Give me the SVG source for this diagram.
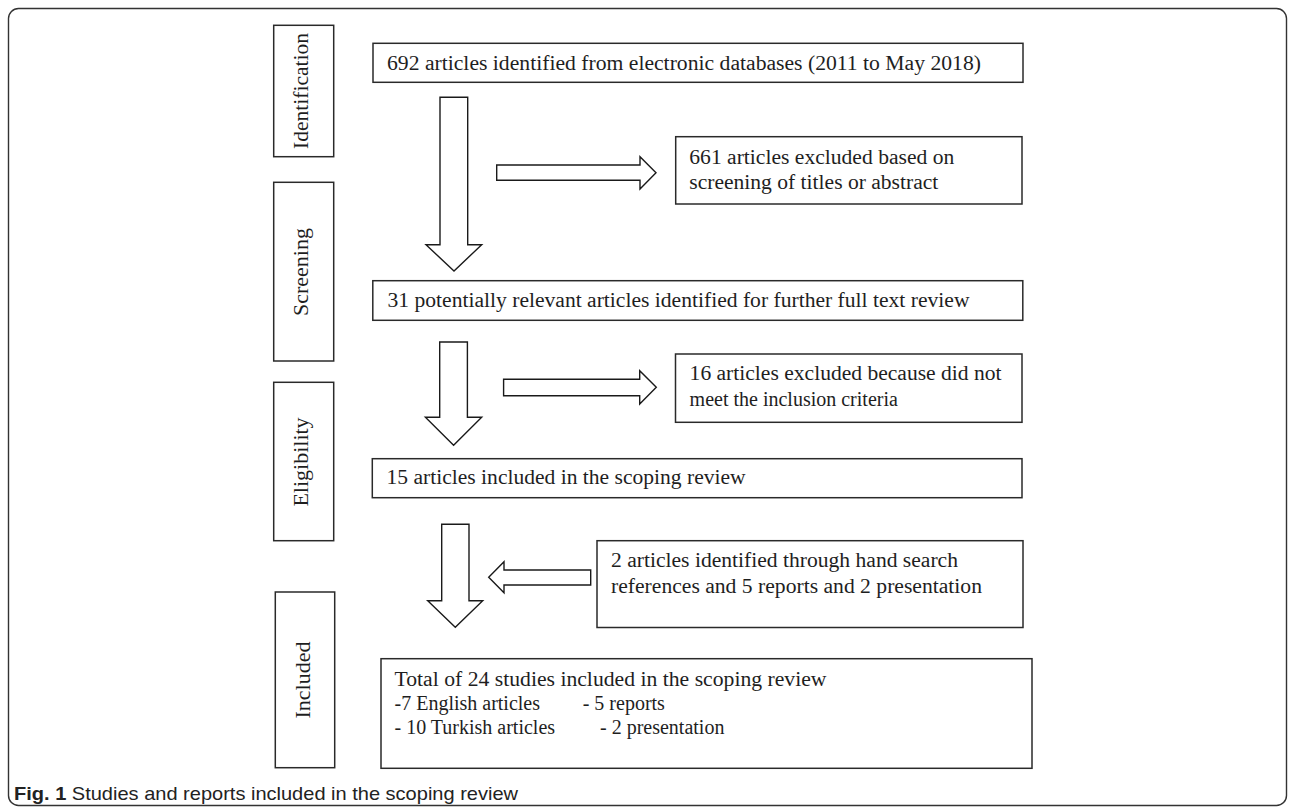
<svg xmlns="http://www.w3.org/2000/svg" width="1292" height="812" viewBox="0 0 1292 812">
<style>
.frame{fill:#fff;stroke:#333;stroke-width:1.4}
.box{fill:#fff;stroke:#2a2a2a;stroke-width:1.5}
.arrow{fill:#fff;stroke:#1a1a1a;stroke-width:1.4;stroke-linejoin:miter}
.t{font-family:"Liberation Serif","Times New Roman",serif;font-size:20px;fill:#1e1e1e}
.lab{font-family:"Liberation Serif","Times New Roman",serif;font-size:22px;fill:#1e1e1e;text-anchor:middle}
.cap{font-family:"Liberation Sans",Arial,sans-serif;font-size:19px;fill:#222}
</style>
<rect class="frame" x="8.5" y="8.5" width="1278" height="797" rx="10"/>
<g id="stage-identification">
<rect class="box" x="273.7" y="25.3" width="60" height="131.4"/>
<text class="lab" transform="translate(308,91) rotate(-90)" textLength="116" lengthAdjust="spacingAndGlyphs">Identification</text>
</g>
<g id="stage-screening">
<rect class="box" x="273.7" y="182.3" width="60" height="178.7"/>
<text class="lab" transform="translate(308,272) rotate(-90)">Screening</text>
</g>
<g id="stage-eligibility">
<rect class="box" x="273.7" y="382.3" width="60" height="158.4"/>
<text class="lab" transform="translate(308,462) rotate(-90)">Eligibility</text>
</g>
<g id="stage-included">
<rect class="box" x="275.3" y="592" width="59.4" height="175.7"/>
<text class="lab" transform="translate(310,680) rotate(-90)">Included</text>
</g>
<g id="node-692">
<rect class="box" x="373" y="43.3" width="650" height="39"/>
<text class="t" x="387" y="70" textLength="594" lengthAdjust="spacingAndGlyphs">692 articles identified from electronic databases (2011 to May 2018)</text>
</g>
<g id="node-661">
<rect class="box" x="675.7" y="136.7" width="346.3" height="67.3"/>
<text class="t" x="689.3" y="164.3" textLength="265" lengthAdjust="spacingAndGlyphs">661 articles excluded based on</text>
<text class="t" x="689.3" y="188.7" textLength="249" lengthAdjust="spacingAndGlyphs">screening of titles or abstract</text>
</g>
<g id="node-31">
<rect class="box" x="372.8" y="280.7" width="650" height="39.6"/>
<text class="t" x="387.5" y="306.7" textLength="582" lengthAdjust="spacingAndGlyphs">31 potentially relevant articles identified for further full text review</text>
</g>
<g id="node-16">
<rect class="box" x="675.5" y="354" width="346.5" height="68.3"/>
<text class="t" x="689.6" y="380" textLength="312" lengthAdjust="spacingAndGlyphs">16 articles excluded because did not</text>
<text class="t" x="689.6" y="406">meet the inclusion criteria</text>
</g>
<g id="node-15">
<rect class="box" x="372.3" y="458.7" width="649.7" height="39"/>
<text class="t" x="386.6" y="484.3" textLength="359" lengthAdjust="spacingAndGlyphs">15 articles included in the scoping review</text>
</g>
<g id="node-2">
<rect class="box" x="597" y="540.7" width="426" height="86.8"/>
<text class="t" x="611" y="566.7" textLength="347" lengthAdjust="spacingAndGlyphs">2 articles identified through hand search</text>
<text class="t" x="611" y="592.7" textLength="371" lengthAdjust="spacingAndGlyphs">references and 5 reports and 2 presentation</text>
</g>
<g id="node-total">
<rect class="box" x="381" y="658.7" width="651" height="109.6"/>
<text class="t" x="394.5" y="686" textLength="432" lengthAdjust="spacingAndGlyphs">Total of 24 studies included in the scoping review</text>
<text class="t" x="394.5" y="709.5">-7 English articles</text>
<text class="t" x="582.7" y="709.5">- 5 reports</text>
<text class="t" x="394.5" y="734">- 10 Turkish articles</text>
<text class="t" x="600" y="734">- 2 presentation</text>
</g>
<g id="connectors">
<polygon class="arrow" points="440,97.3 467.7,97.3 467.7,244.7 481.7,244.7 454,271 426,244.7 440,244.7"/>
<polygon class="arrow" points="496.7,165 640,165 640,156.7 656,172.7 640,189 640,180.3 496.7,180.3"/>
<polygon class="arrow" points="439.7,342 467.4,342 467.4,417.3 481.7,417.3 453.6,445.3 425.4,417.3 439.7,417.3"/>
<polygon class="arrow" points="503.6,379.3 639.7,379.3 639.7,370.7 656.3,387.3 639.7,404 639.7,395.7 503.6,395.7"/>
<polygon class="arrow" points="441.7,524.3 469,524.3 469,600.7 482.7,600.7 455.3,627.3 427.7,600.7 441.7,600.7"/>
<polygon class="arrow" points="590.7,570 504,570 504,561.7 488.7,577.3 504,592.7 504,585 590.7,585"/>
</g>
<text class="cap" x="14" y="800" textLength="504" lengthAdjust="spacingAndGlyphs"><tspan font-weight="bold">Fig. 1</tspan> Studies and reports included in the scoping review</text>
</svg>
